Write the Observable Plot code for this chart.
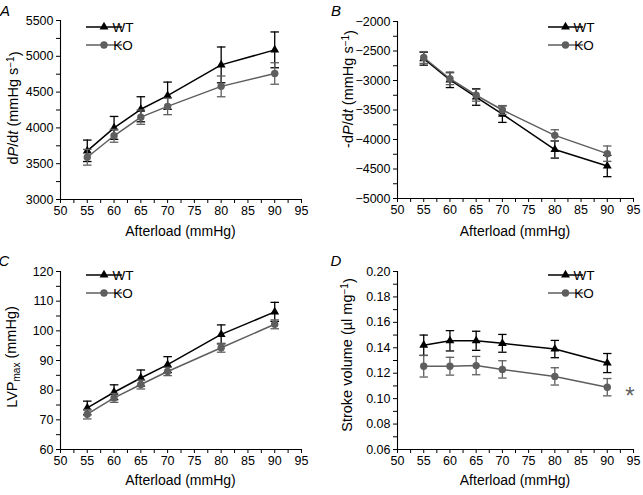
<!DOCTYPE html>
<html>
<head>
<meta charset="utf-8">
<script src="https://cdn.jsdelivr.net/npm/d3@7"></script>
<script src="https://cdn.jsdelivr.net/npm/@observablehq/plot@0.6"></script>
<style>
  html, body { margin: 0; padding: 0; background: white; }
  #wrap { position: relative; width: 643px; height: 495px; background: white; overflow: hidden; }
  .panel { position: absolute; }
</style>
</head>
<body>
<div id="wrap"></div>
<script>
// ---------- data ----------
const afterload = [55, 60, 65, 70, 80, 90];
const xTicks = [50, 55, 60, 65, 70, 75, 80, 85, 90, 95];
const xMinor = [52.5, 57.5, 62.5, 67.5, 72.5, 77.5, 82.5, 87.5, 92.5];

// A: dP/dt
const dpdtWT = [3680, 4000, 4260, 4450, 4880, 5090];
const dpdtWTerr = [150, 160, 175, 190, 250, 250];
const dpdtKO = [3590, 3890, 4150, 4300, 4580, 4760];
const dpdtKOerr = [110, 90, 100, 115, 145, 150];
const yTicksA = [3000, 3500, 4000, 4500, 5000, 5500];
const yMinorA = [3250, 3750, 4250, 4750, 5250];

// B: -dP/dt
const negWT = [-2630, -2990, -3280, -3570, -4170, -4450];
const negWTerr = [110, 130, 140, 140, 145, 180];
const negKO = [-2610, -2970, -3250, -3500, -3930, -4240];
const negKOerr = [100, 100, 100, 75, 95, 130];
const yTicksB = [-5000, -4500, -4000, -3500, -3000, -2500, -2000];
const yMinorB = [-4750, -4250, -3750, -3250, -2750, -2250];

// C: LVPmax
const lvpWT = [74.0, 79.3, 84.1, 88.6, 98.8, 106.4];
const lvpWTerr = [2.3, 2.5, 2.7, 2.7, 3.2, 3.2];
const lvpKO = [71.9, 77.4, 81.9, 86.3, 94.3, 102.2];
const lvpKOerr = [1.6, 1.5, 1.5, 1.4, 1.5, 1.5];
const yTicksC = [60, 70, 80, 90, 100, 110, 120];
const yMinorC = [65, 75, 85, 95, 105, 115];

// D: stroke volume
const svWT = [0.142, 0.1455, 0.1455, 0.1435, 0.139, 0.128];
const svWTerr = [0.008, 0.008, 0.0075, 0.007, 0.0068, 0.0075];
const svKO = [0.1255, 0.1255, 0.126, 0.123, 0.1175, 0.109];
const svKOerr = [0.0085, 0.007, 0.0072, 0.0068, 0.0068, 0.0068];
const yTicksD = [0.06, 0.08, 0.10, 0.12, 0.14, 0.16, 0.18, 0.20];
const yMinorD = [0.07, 0.09, 0.11, 0.13, 0.15, 0.17, 0.19];

const groups = ["WT", "KO"];

// ---------- styling ----------
const NARROW = '"Liberation Sans Narrow", "Liberation Sans", Arial, sans-serif';
const REG = '"Liberation Sans", Arial, sans-serif';
const COLORS = {WT: "#000000", KO: "#5e5e5e"};
const SYMBOLS = {WT: "triangle", KO: "circle"};
const RADII = {WT: 3.3, KO: 3.7};
const CAP = 0.8;

function seriesMarks(name, vals, errs) {
  const data = afterload.map((x, i) => ({x, y: vals[i], e: errs[i]}));
  const c = COLORS[name];
  return [
    Plot.line(data, {x: "x", y: "y", stroke: c, strokeWidth: 1.5}),
    Plot.ruleX(data, {x: "x", y1: d => d.y - d.e, y2: d => d.y + d.e, stroke: c, strokeWidth: 1.3}),
    Plot.link(data, {x1: d => d.x - CAP, x2: d => d.x + CAP, y1: d => d.y + d.e, y2: d => d.y + d.e, stroke: c, strokeWidth: 1.3}),
    Plot.link(data, {x1: d => d.x - CAP, x2: d => d.x + CAP, y1: d => d.y - d.e, y2: d => d.y - d.e, stroke: c, strokeWidth: 1.3}),
    Plot.dot(data, {x: "x", y: "y", symbol: SYMBOLS[name], r: RADII[name], fill: c, stroke: "none"})
  ];
}

function makePanel(o) {
  const svg = Plot.plot({
    width: o.w, height: o.h,
    marginLeft: o.ml, marginRight: o.mr, marginTop: o.mt, marginBottom: o.mb,
    style: {fontFamily: NARROW, fontSize: "12.5px", color: "black", background: "white", overflow: "visible"},
    x: {domain: [xTicks[0], xTicks[xTicks.length - 1]]},
    y: {domain: [o.yTicks[0], o.yTicks[o.yTicks.length - 1]]},
    marks: [
      Plot.axisX(xTicks, {tickSize: 4, tickPadding: 3, label: null, tickFormat: d3.format("d")}),
      Plot.axisX(xMinor, {tickSize: 4, label: null, tickFormat: () => ""}),
      Plot.axisY(o.yTicks, {tickSize: 4, tickPadding: 3, label: null, tickFormat: o.yFmt}),
      Plot.axisY(o.yMinor, {tickSize: 4, label: null, tickFormat: () => ""}),
      Plot.ruleY([o.yTicks[0]], {stroke: "black", strokeWidth: 1.1}),
      Plot.ruleX([xTicks[0]], {stroke: "black", strokeWidth: 1.1}),
      ...seriesMarks("WT", o.wt, o.wtErr),
      ...seriesMarks("KO", o.ko, o.koErr)
    ]
  });
  const s = d3.select(svg);
  // x label
  s.append("text")
    .attr("x", o.ml + (o.w - o.ml - o.mr) / 2).attr("y", o.xlabY)
    .attr("text-anchor", "middle")
    .style("font-family", REG).style("font-size", "14px").style("font-weight", "normal")
    .text("Afterload (mmHg)");
  // y label with rich text
  const t = s.append("text")
    .attr("transform", `translate(${o.ylabX},${o.ylabY}) rotate(-90)`)
    .attr("text-anchor", "middle")
    .attr("dy", "0.35em")
    .style("font-family", REG).style("font-size", "14.5px");
  for (const p of o.ylab) {
    const ts = t.append("tspan").text(p.t);
    if (p.i) ts.style("font-style", "italic");
    if (p.sup) ts.attr("dy", "-0.45em").style("font-size", "10px");
    if (p.sub) ts.attr("dy", "0.3em").style("font-size", "10px");
    if (p.back) ts.attr("dy", p.back);
  }
  // panel letter
  s.append("text").attr("x", o.letterX).attr("y", 16)
    .style("font-family", REG).style("font-size", "15px").style("font-style", "italic")
    .text(o.letter);
  // legend
  const g = s.append("g");
  groups.forEach((name, i) => {
    const y = o.legY + i * 18;
    const c = COLORS[name];
    g.append("line").attr("x1", o.legX1).attr("x2", o.legX2).attr("y1", y).attr("y2", y)
      .attr("stroke", c).attr("stroke-width", 1.5);
    const sym = name === "WT" ? d3.symbolTriangle : d3.symbolCircle;
    const r = RADII[name];
    g.append("path").attr("d", d3.symbol(sym, Math.PI * r * r)())
      .attr("transform", `translate(${(o.legX1 + o.legX2) / 2},${y})`).attr("fill", c);
    g.append("text").attr("x", o.legX2 + 1).attr("y", y).attr("dy", "0.36em")
      .style("font-family", REG).style("font-size", "13.5px").style("font-weight", "normal").text(name);
  });
  if (o.extra) o.extra(s);
  const div = document.createElement("div");
  div.className = "panel";
  div.style.left = o.left + "px";
  div.style.top = o.top + "px";
  div.appendChild(svg);
  document.getElementById("wrap").appendChild(div);
}

const fmtInt = d3.format("d");
const fmt2 = d3.format(".2f");

makePanel({
  left: 0, top: 0, w: 321, h: 250, ml: 60, mr: 20, mt: 20, mb: 51,
  wt: dpdtWT, wtErr: dpdtWTerr, ko: dpdtKO, koErr: dpdtKOerr,
  yTicks: yTicksA, yMinor: yMinorA, yFmt: fmtInt,
  xlabY: 236, ylabX: 13, ylabY: 108,
  ylab: [{t: "d"}, {t: "P", i: true}, {t: "/d"}, {t: "t", i: true}, {t: " (mmHg s"}, {t: "−1", sup: true}, {t: ")", back: "0.45em"}],
  letter: "A", letterX: 5,
  legX1: 86, legX2: 122, legY: 27
});

makePanel({
  left: 321, top: 0, w: 322, h: 250, ml: 76, mr: 10, mt: 21, mb: 52,
  wt: negWT, wtErr: negWTerr, ko: negKO, koErr: negKOerr,
  yTicks: yTicksB, yMinor: yMinorB, yFmt: fmtInt,
  xlabY: 236, ylabX: 27, ylabY: 89,
  ylab: [{t: "-d"}, {t: "P", i: true}, {t: "/d"}, {t: "t", i: true}, {t: " (mmHg s"}, {t: "−1", sup: true}, {t: ")", back: "0.45em"}],
  letter: "B", letterX: 15,
  legX1: 227, legX2: 262, legY: 27
});

makePanel({
  left: 0, top: 250, w: 321, h: 245, ml: 60, mr: 20, mt: 21, mb: 46,
  wt: lvpWT, wtErr: lvpWTerr, ko: lvpKO, koErr: lvpKOerr,
  yTicks: yTicksC, yMinor: yMinorC, yFmt: fmtInt,
  xlabY: 235, ylabX: 12, ylabY: 107,
  ylab: [{t: "LVP"}, {t: "max", sub: true}, {t: " (mmHg)", back: "-0.3em"}],
  letter: "C", letterX: 4,
  legX1: 86, legX2: 122, legY: 25
});

makePanel({
  left: 321, top: 250, w: 322, h: 245, ml: 76, mr: 10, mt: 21, mb: 46,
  wt: svWT, wtErr: svWTerr, ko: svKO, koErr: svKOerr,
  yTicks: yTicksD, yMinor: yMinorD, yFmt: fmt2,
  xlabY: 235, ylabX: 26, ylabY: 105,
  ylab: [{t: "Stroke volume (µl mg"}, {t: "−1", sup: true}, {t: ")", back: "0.45em"}],
  letter: "D", letterX: 15,
  legX1: 227, legX2: 262, legY: 25,
  extra: s => s.append("text").attr("x", 309).attr("y", 154)
    .style("font-family", REG).style("font-size", "24px").attr("fill", "#5e5e5e").text("*")
});
</script>
</body>
</html>
